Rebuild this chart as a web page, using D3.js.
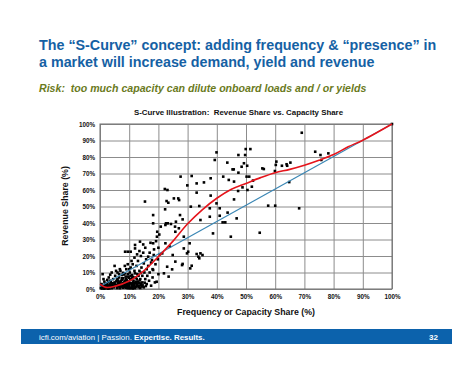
<!DOCTYPE html>
<html><head><meta charset="utf-8">
<script src="https://cdn.jsdelivr.net/npm/d3@7"></script>
<style>
html,body{margin:0;padding:0;background:#fff;}
svg{display:block;font-family:Arial,"Liberation Sans",sans-serif;}
text{white-space:pre;}
</style></head>
<body>
<svg id="c" width="474" height="366"></svg>
<script>
const titleLines = ["The \u201cS-Curve\u201d concept: adding frequency & \u201cpresence\u201d in", "a market will increase demand, yield and revenue"];
const subtitle = "Risk:  too much capacity can dilute onboard loads and / or yields";
const chartTitle = "S-Curve Illustration:  Revenue Share vs. Capacity Share";
const xTitle = "Frequency or Capacity Share (%)";
const yTitle = "Revenue Share (%)";
const tickValues = [0,10,20,30,40,50,60,70,80,90,100];
const tickLabels = ["0%","10%","20%","30%","40%","50%","60%","70%","80%","90%","100%"];
const footerPlain = "icfi.com/aviation | Passion. ";
const footerBold = "Expertise. Results.";
const pageNumber = "32";

// scatter points [capacity share %, revenue share %]
const pointsCore = [
[0.3,0.5],[0.5,1.5],[0.8,0.3],[1,2.5],[1.2,1],[1.5,0.2],[1.8,3],[2,1.5],[2.2,0.5],[2.5,2],[2.8,4],[3,1],[3.2,0.3],[3.5,2.8],[3.8,1.5],[4,0.5],[4,3.5],[0.5,3],[1.5,4.5],[2.5,5.5],[0.9,9],[1.2,6],[3,7],[3.5,5],
[4.3,2],[4.5,6],[4.7,1],[5,4],[5,14],[5.2,8],[5.5,2.5],[5.8,5.5],[6,1],[6,10],[6.2,3.5],[6.5,7],[6.8,0.5],[7,2.5],[7,11],[7.2,5],[7.5,8.5],[7.5,1.5],[7.8,3.5],[8,6.5],[4,10],[3.5,8.7],[6.5,9],[5.5,11],
[2,0.8],[3,2.2],[4.5,1.2],[5,2.8],[5.8,0.6],[6.5,2],[7,4],[7.8,0.8],[8,2.5],[8.5,5],[9,1.2],[9.3,4.2],[9.8,2.8],[10.3,0.4],[10.5,3.5],[11,1],[11.3,4],[11.7,2.2],[12.2,1.2],[12.7,3.2],[13.5,2],[13.8,0.6],[14.3,1.5],[6,6],[7.5,6.5],[8.8,7.5],[9.5,9],[10.5,8],[11,6.5],[12,9.5],[6.3,4.8],[8.2,8.8],
[8.2,1],[8.3,4],[8.5,9.5],[8.6,22.6],[8.8,2],[9,6],[9,12],[9.2,3],[9.5,22.6],[9.5,0.5],[9.7,7.5],[10,1.8],[10,4.5],[10.2,10],[10.5,22.6],[10.5,13],[10.5,0.8],[10.8,6],[11,3],[11,8.5],[11.2,15],[11.5,1.5],[11.5,5],[11.8,11],[12,0.5],[12,3.5],[12,24.6],[12,26.7],[11.8,19],[10.8,17],[9.5,15],[8.5,14],[10,12],
[12.3,7],[12.5,2],[12.5,14],[12.8,9],[13,4.5],[13,17],[13.2,1],[13.5,11],[13.7,28.7],[13.8,6],[14,2.5],[14,20],[14.2,13],[14.5,8],[14.5,4],[14.8,22],[15,1],[15,15.5],[15.2,10],[15.5,6],[15.5,25],[15.8,18],[16,3],[16,12],[12.7,21],[13.5,23],[14.8,27],
[16.2,8],[16.5,19.6],[16.5,14],[16.8,5],[17,22],[17,10],[17.3,28],[17.5,2],[17.5,16],[17.8,17.6],[18,7],[18,12],[18.2,27.7],[18.2,11.5],[18.4,20.6],[18.5,24],[18.8,4],[19,15],[19.2,29],[19.4,4.4],[19.8,18],[20,9],[20,25],[20.5,21],
[1,0.6],[1.7,1.8],[2.3,3.2],[2.7,0.2],[3.3,1.6],[3.7,4.2],[4.2,2.6],[4.8,3.4],[5.3,1.8],[5.6,4.6],[6.1,2.6],[6.6,3.8],[6.9,1.2],[7.3,3],[7.6,5.6],[8.1,1.8],[8.6,3.2],[8.9,0.8],[9.2,5.2],[9.6,2],[10.1,3],[10.4,5.8],[10.9,2.2],[11.2,0.3],[11.6,3.2],[12.4,4.4],[12.9,1.8],[13.3,3.6],[13.6,5.2],[14.1,3.4],[14.6,2.2],[15.3,3.8],[15.7,1.8],[9.9,6.8],[11.4,7.2],[12.6,6],[13.2,8],[14,9.8],[7.9,9.8],[6.8,12]
];
const pointsMid = [
[15.4,53],[18.2,44.8],[18.2,39.8],[19.5,31.7],[19.6,34.7],[20.3,33],[20.8,37.8],[21.9,9.5],[22.3,48.3],[22.2,60.6],[23.1,60],[22.8,53.3],[23.4,52.3],[22.4,38.8],[23.2,39.8],[24.3,39.4],[22.6,39.8],[21.3,21.6],[22.4,27.7],[23.9,25.7],[23,13.5],[23.5,7.5],[24.7,11.9],[24.9,20.6],[25.8,16.6],[25.8,34.7],[25.3,54.9],[25.7,37.8],[26,40.8],[26.8,54.9],[27.1,53.9],[27.4,44.8],[27,36.8],[27.6,68.1],[28.3,42.2],[28.7,31.7],[28.7,24.6],[28.1,14.5],[28.3,15.2],[29.8,21.6],[29.9,62.8],[30.2,22.6],[30.7,27.7],[30.9,12.5],[31.1,49.9],[31.4,68.5],[31.4,14.1],[33.1,64],[33.1,58.4],[33.1,21.2],[33.7,19.6],[34,18.6],[34,50.3],[34.4,41.8],[34.4,21.6],[35.1,20.6],[35.6,64.6],[37.6,48.9],[37.6,43.8],[37.9,67.1],[37.9,56.6],[38.7,33.7],[39.3,78.2],[39.9,82.8],[39.9,51.9],[41,48.9],[41,44.4],[42,40.4],[42.9,40.4],[42.2,68.1],[43.6,76.6],[43.7,46.3],[44.1,66.1],[44.8,31.7],[45.4,72.5],[45.8,72.5],[45.9,65.1],[45.9,54.3],[46.8,42.8],[47.4,81.2],[47.4,70.5],[47.3,59.4],[48.5,74.1],[48.8,61.6],[49.3,76.2],[49.7,81.2],[49.9,84.8],[50.4,74.7],[50.2,68.1],[50.5,60],[51.1,68.1],[51.5,84.8],[52,62],[52.4,65.7]
];
const pointsHigh = [
[54.7,34.1],[55.6,73.1],[56.1,72.7],[57.6,50.5],[59.9,71.5],[60,50.5],[60.2,75.2],[60.4,77.2],[62.3,74.7],[63.9,75.6],[64.1,74.7],[64.8,64.8],[65.2,76.6],[68.2,48.9],[69.1,94.7],[73.7,83.2],[75.5,81.2],[75.8,78.2],[78.2,82.2],[100,100]
];
const sCurve = [[0,3],[2,1],[5,1.6],[10,4.8],[15,11],[20,19.6],[25,29],[30,39.5],[35,48],[40,55],[45,60.5],[50,64],[55,67.5],[60,70.5],[65,72.5],[70,75],[75,78],[80,81.5],[85,86.2],[90,90.2],[100,100]];
const diagonal = [[0,1.5],[100,100]];

const svg = d3.select("#c");
const font = 'Arial,"Liberation Sans",sans-serif';

// Titles
svg.append("text").attr("x",39).attr("y",50).attr("font-size",14.3).attr("font-weight","bold").attr("fill","#1561a4").text(titleLines[0]);
svg.append("text").attr("x",39).attr("y",66.5).attr("font-size",14.3).attr("font-weight","bold").attr("fill","#1561a4").text(titleLines[1]);
svg.append("text").attr("x",39).attr("y",92).attr("font-size",10.6).attr("font-weight","bold").attr("font-style","italic").attr("fill","#6a7a1c").text(subtitle);

const m = {l:100, r:392, t:124, b:289};
const x = d3.scaleLinear().domain([0,100]).range([m.l,m.r]);
const y = d3.scaleLinear().domain([0,100]).range([m.b,m.t]);

svg.append("text").attr("x",238.5).attr("y",115).attr("text-anchor","middle").attr("font-size",7.9).attr("font-weight","bold").attr("fill","#111").text(chartTitle);

// grid
const g = svg.append("g");
g.append("g").attr("transform",`translate(0,${m.b})`)
 .call(d3.axisBottom(x).tickValues(tickValues).tickSize(-(m.b-m.t)).tickFormat((d,i)=>tickLabels[i]).tickPadding(6))
 .call(s=>{s.select(".domain").remove();
   s.selectAll("line").attr("stroke","#8c8c8c").attr("stroke-width",1);
   s.selectAll("text").attr("font-size",6.3).attr("font-weight","bold").attr("fill","#111").attr("font-family",font);});
g.append("g").attr("transform",`translate(${m.l},0)`)
 .call(d3.axisLeft(y).tickValues(tickValues).tickSize(-(m.r-m.l)).tickFormat((d,i)=>tickLabels[i]).tickPadding(5))
 .call(s=>{s.select(".domain").remove();
   s.selectAll("line").attr("stroke","#8c8c8c").attr("stroke-width",1);
   s.selectAll("text").attr("font-size",6.3).attr("font-weight","bold").attr("fill","#111").attr("font-family",font);});
g.append("rect").attr("x",m.l).attr("y",m.t).attr("width",m.r-m.l).attr("height",m.b-m.t).attr("fill","none").attr("stroke","#6e6e6e").attr("stroke-width",1);

// points
const allPts = pointsCore.concat(pointsMid, pointsHigh);
svg.append("g").selectAll("rect").data(allPts).join("rect")
 .attr("x",d=>x(d[0])-1.3).attr("y",d=>y(d[1])-1.3).attr("width",2.6).attr("height",2.6).attr("fill","#000");

// lines
const line = d3.line().x(d=>x(d[0])).y(d=>y(d[1]));
svg.append("path").datum(diagonal).attr("d",line).attr("fill","none").attr("stroke","#3b87b5").attr("stroke-width",1.2);
svg.append("path").datum(sCurve).attr("d",line.curve(d3.curveCatmullRom)).attr("fill","none").attr("stroke","#e5141b").attr("stroke-width",1.6);

// axis titles
svg.append("text").attr("x",246).attr("y",315).attr("text-anchor","middle").attr("font-size",8.8).attr("font-weight","bold").attr("fill","#111").text(xTitle);
svg.append("text").attr("transform","translate(67.5,206) rotate(-90)").attr("text-anchor","middle").attr("font-size",8.8).attr("font-weight","bold").attr("fill","#111").text(yTitle);

// footer
svg.append("rect").attr("x",21).attr("y",329).attr("width",431).attr("height",15).attr("fill","#0c62ac");
const ft = svg.append("text").attr("x",39).attr("y",339.5).attr("font-size",7.9).attr("fill","#fff");
ft.append("tspan").text(footerPlain);
ft.append("tspan").attr("font-weight","bold").text(footerBold);
svg.append("text").attr("x",438).attr("y",339.5).attr("text-anchor","end").attr("font-size",8).attr("font-weight","bold").attr("fill","#fff").text(pageNumber);
</script>
</body></html>
